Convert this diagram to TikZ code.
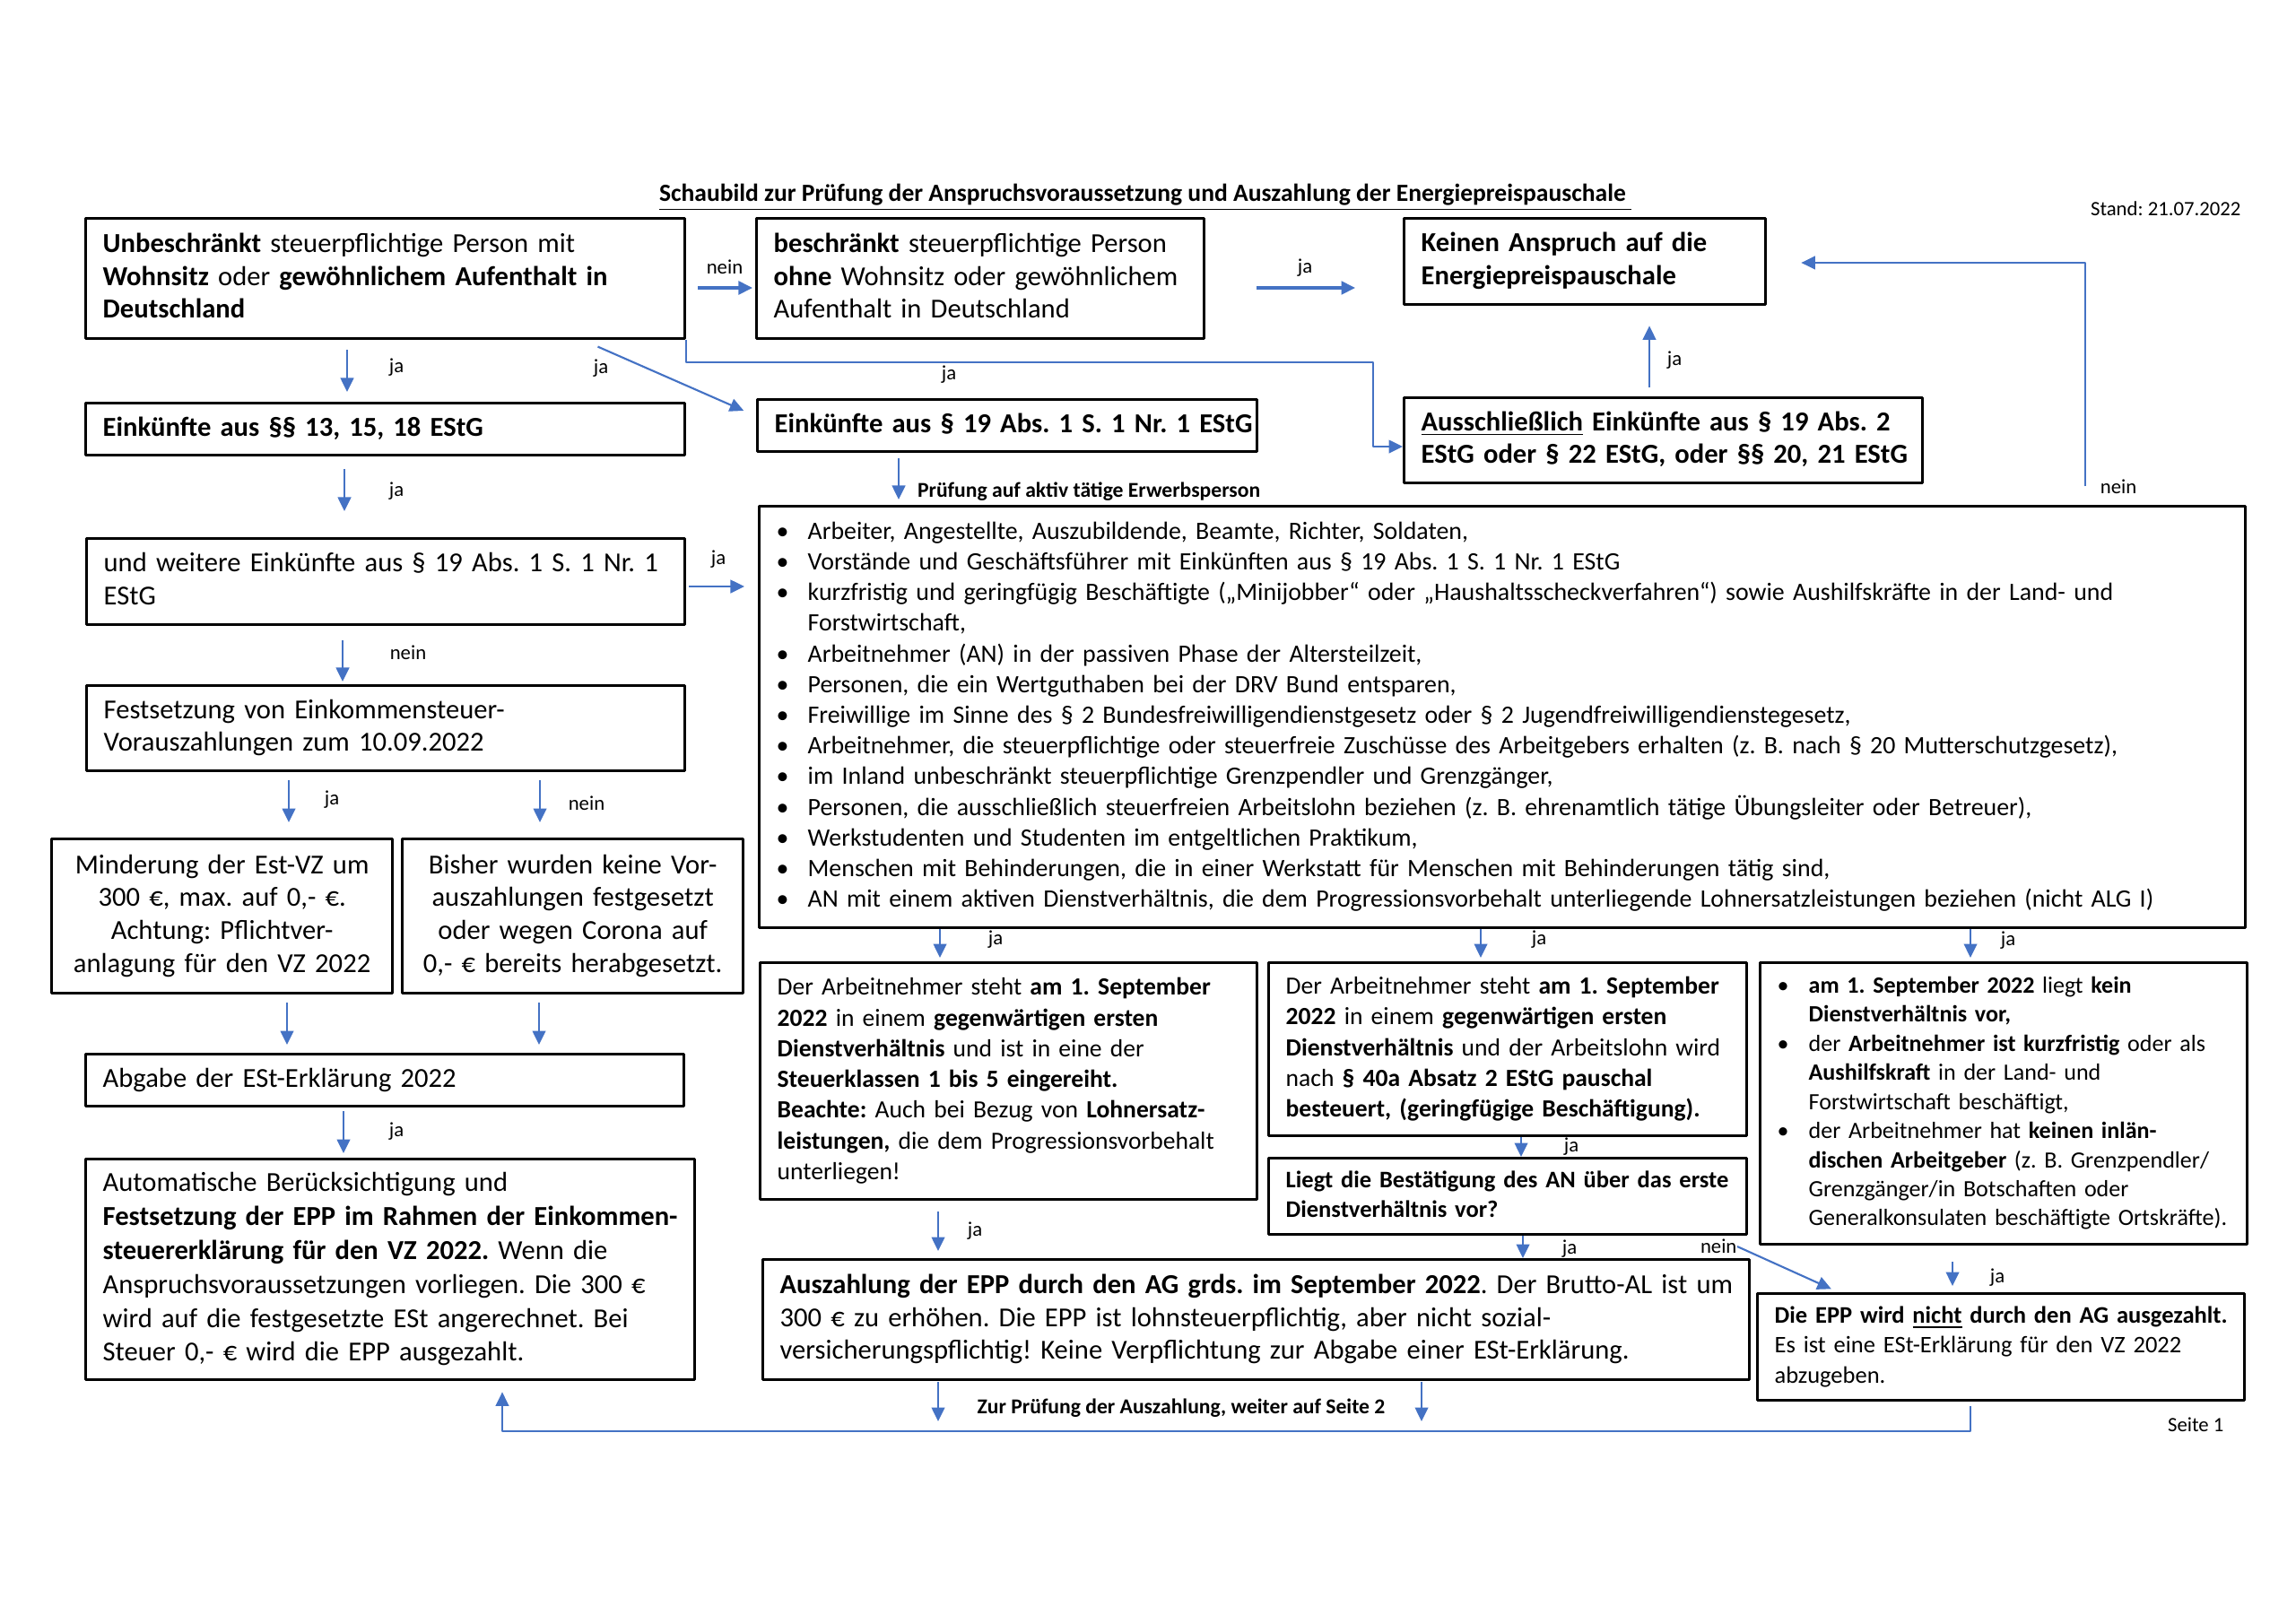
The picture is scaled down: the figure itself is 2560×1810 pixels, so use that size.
\documentclass[tikz,border=0pt]{standalone}
\usepackage{fontspec}
\setmainfont{Carlito}
\usetikzlibrary{arrows.meta,positioning}
\definecolor{epblue}{HTML}{4472C4}
\frenchspacing
\newlength{\pxd}
\setlength{\pxd}{0.11602mm}
\newcommand{\lns}[1]{\begin{tabular}{@{}l@{}}#1\end{tabular}}
\newcommand{\clns}[1]{\begin{tabular}{@{}c@{}}#1\end{tabular}}
\newcommand{\bul}{\makebox[35\pxd][l]{\textbullet}}
\newcommand{\bulsp}{\hspace*{35\pxd}}

\begin{document}
\begin{tikzpicture}[x=0.11602mm, y=-0.11602mm, >={Triangle[length=1.8mm,width=1.7mm]},
    line join=round,
    box/.style={draw, line width=1.1pt, inner xsep=19*\pxd, inner ysep=2pt, anchor=north west,
      align=left, font=\fontsize{10.1}{12.1}\selectfont},
    sm/.style={font=\fontsize{9.1}{11.3}\selectfont},
    bx/.style n args={2}{text width=#1*\pxd-38*\pxd, minimum height=#2*\pxd},
    arr/.style={->, draw=epblue, line width=0.7pt},
    arrb/.style={->, draw=epblue, line width=1.1pt},
    gap/.style 2 args={shorten <=#1*\pxd, shorten >=#2*\pxd},
    lbl/.style={font=\fontsize{7.5}{9}\selectfont, inner sep=0pt},
    lblb/.style={font=\fontsize{7.8}{9}\selectfont\bfseries, inner sep=0pt}]
    \useasboundingbox (0,0) rectangle (2560,1810);

    \node[font=\fontsize{9.1}{11}\selectfont\bfseries, inner sep=0pt] (titel) at (1277,220)
      {\underline{Schaubild zur Prüfung der Anspruchsvoraussetzung und Auszahlung der Energiepreispauschale }};
    \node[lbl, anchor=east] (stand) at (2499,233) {Stand: 21.07.2022};
    \node[lbl, anchor=east] (seite) at (2480,1589) {Seite 1};

    \node[box, bx={668}{134}] (unb) at (94,242) {\lns{\textbf{Unbeschränkt} steuerpflichtige Person mit\\
      \textbf{Wohnsitz} oder \textbf{gewöhnlichem Aufenthalt in}\\ \textbf{Deutschland}}};
    \node[box, bx={499}{134}] (bes) at (842,242) {\lns{\textbf{beschränkt} steuerpflichtige Person\\
      \textbf{ohne} Wohnsitz oder gewöhnlichem\\ Aufenthalt in Deutschland}};
    \node[box, bx={403}{96}] (kein) at (1564,242) {\lns{\textbf{Keinen Anspruch auf die}\\ \textbf{Energiepreispauschale}}};
    \node[box, bx={668}{58}] (ek13) at (94,448) {\lns{\textbf{Einkünfte aus §§ 13, 15, 18 EStG}}};
    \node[box, bx={557}{58}] (ek19) at (843,444) {\lns{\textbf{Einkünfte aus § 19 Abs. 1 S. 1 Nr. 1 EStG}}};
    \node[box, bx={578}{95}] (auss) at (1564,442) {\lns{\textbf{\underline{Ausschließlich} Einkünfte aus § 19 Abs. 2}\\
      \textbf{EStG oder § 22 EStG, oder §§ 20, 21 EStG}}};
    \node[box, bx={667}{96}] (weit) at (95,599) {\lns{und weitere Einkünfte aus § 19 Abs. 1 S. 1 Nr. 1\\ EStG}};
    \node[box, bx={667}{95}] (vorz) at (95,763) {\lns{Festsetzung von Einkommensteuer-\\ Vorauszahlungen zum 10.09.2022}};
    \node[box, bx={380}{172}, align=center] (mind) at (56,934) {\clns{Minderung der Est-VZ um\\ 300 €, max. auf 0,- €.\\
      Achtung: Pflichtver-\\ anlagung für den VZ 2022}};
    \node[box, bx={380}{172}, align=center] (bish) at (447,934) {\clns{Bisher wurden keine Vor-\\ auszahlungen festgesetzt\\
      oder wegen Corona auf\\ 0,- € bereits herabgesetzt.}};
    \node[box, bx={667}{58}] (abg) at (94,1174) {\lns{Abgabe der ESt-Erklärung 2022}};
    \node[box, bx={679}{246}, font=\fontsize{10.1}{12.5}\selectfont] (auto) at (94,1291) {\lns{Automatische Berücksichtigung und\\
      \textbf{Festsetzung der EPP im Rahmen der Einkommen-}\\ \textbf{steuererklärung für den VZ 2022.} Wenn die\\
      Anspruchsvoraussetzungen vorliegen. Die 300 €\\ wird auf die festgesetzte ESt angerechnet. Bei\\
      Steuer 0,- € wird die EPP ausgezahlt.}};

    \node[box, bx={1657}{470}, font=\fontsize{9.2}{11.3}\selectfont] (liste) at (845,563) {\lns{\bul Arbeiter, Angestellte, Auszubildende, Beamte, Richter, Soldaten,\\
      \bul Vorstände und Geschäftsführer mit Einkünften aus § 19 Abs. 1 S. 1 Nr. 1 EStG\\
      \bul kurzfristig und geringfügig Beschäftigte („Minijobber“ oder „Haushaltsscheckverfahren“) sowie Aushilfskräfte in der Land- und\\
      \bulsp Forstwirtschaft,\\
      \bul Arbeitnehmer (AN) in der passiven Phase der Altersteilzeit,\\
      \bul Personen, die ein Wertguthaben bei der DRV Bund entsparen,\\
      \bul Freiwillige im Sinne des § 2 Bundesfreiwilligendienstgesetz oder § 2 Jugendfreiwilligendienstegesetz,\\
      \bul Arbeitnehmer, die steuerpflichtige oder steuerfreie Zuschüsse des Arbeitgebers erhalten (z. B. nach § 20 Mutterschutzgesetz),\\
      \bul im Inland unbeschränkt steuerpflichtige Grenzpendler und Grenzgänger,\\
      \bul Personen, die ausschließlich steuerfreien Arbeitslohn beziehen (z. B. ehrenamtlich tätige Übungsleiter oder Betreuer),\\
      \bul Werkstudenten und Studenten im entgeltlichen Praktikum,\\
      \bul Menschen mit Behinderungen, die in einer Werkstatt für Menschen mit Behinderungen tätig sind,\\
      \bul AN mit einem aktiven Dienstverhältnis, die dem Progressionsvorbehalt unterliegende Lohnersatzleistungen beziehen (nicht ALG I)}};

    \node[box, sm, bx={554}{264}] (erst) at (846,1072) {\lns{Der Arbeitnehmer steht \textbf{am 1. September}\\
      \textbf{2022} in einem \textbf{gegenwärtigen ersten}\\ \textbf{Dienstverhältnis} und ist in eine der\\
      \textbf{Steuerklassen 1 bis 5 eingereiht.}\\ \textbf{Beachte:} Auch bei Bezug von \textbf{Lohnersatz-}\\
      \textbf{leistungen,} die dem Progressionsvorbehalt\\ unterliegen!}};
    \node[box, sm, bx={533}{193}] (pausch) at (1413,1072) {\lns{Der Arbeitnehmer steht \textbf{am 1. September}\\
      \textbf{2022} in einem \textbf{gegenwärtigen ersten}\\ \textbf{Dienstverhältnis} und der Arbeitslohn wird\\
      nach \textbf{§ 40a Absatz 2 EStG pauschal}\\ \textbf{besteuert, (geringfügige Beschäftigung).}}};
    \node[box, bx={533}{85}, font=\fontsize{8.75}{11}\selectfont] (best) at (1413,1290)
      {\lns{\textbf{Liegt die Bestätigung des AN über das erste}\\ \textbf{Dienstverhältnis vor?}}};
    \node[box, bx={543}{314}, font=\fontsize{8.6}{10.7}\selectfont] (keindv) at (1961,1072) {\lns{\bul \textbf{am 1. September 2022} liegt \textbf{kein}\\
      \bulsp \textbf{Dienstverhältnis vor,}\\
      \bul der \textbf{Arbeitnehmer ist kurzfristig} oder als\\
      \bulsp \textbf{Aushilfskraft} in der Land- und\\
      \bulsp Forstwirtschaft beschäftigt,\\
      \bul der Arbeitnehmer hat \textbf{keinen inlän-}\\
      \bulsp \textbf{dischen Arbeitgeber} (z. B. Grenzpendler/\\
      \bulsp Grenzgänger/in Botschaften oder\\
      \bulsp Generalkonsulaten beschäftigte Ortskräfte).}};
    \node[box, bx={1100}{134}] (ausz) at (849,1403) {\lns{\textbf{Auszahlung der EPP durch den AG grds. im September 2022}. Der Brutto-AL ist um\\
      300 € zu erhöhen. Die EPP ist lohnsteuerpflichtig, aber nicht sozial-\\
      versicherungspflichtig! Keine Verpflichtung zur Abgabe einer ESt-Erklärung.}};
    \node[box, bx={543}{119}, font=\fontsize{8.75}{11}\selectfont] (nicht) at (1958,1441)
      {\lns{\textbf{Die EPP wird \underline{nicht} durch den AG ausgezahlt.}\\ Es ist eine ESt-Erklärung für den VZ 2022\\ abzugeben.}};

    \draw[arrb, gap={13}{3}] (unb.east |- 0,321) -- (bes.west |- 0,321) node[lbl] (n1) at (808,298) {nein};
    \draw[arr, gap={11}{11}] (unb.south -| 387,0) -- (ek13.north -| 387,0) node[lbl] (j1) at (442,410) {ja};
    \draw[arr, gap={18}{15}] (unb.south -| 650,0) -- (ek19.west |- 0,464) node[lbl] (j2) at (670,411) {ja};
    \draw[arr] (unb.south east) |- (1531,404) |- (auss.west |- 0,498) node[lbl] (j3) at (1058,418) {ja};
    \draw[arrb, gap={57}{53}] (bes.east |- 0,321) -- (kein.west |- 0,321) node[lbl] (j4) at (1455,299) {ja};
    \draw[arr, gap={10}{22}] (auss.north -| 1839,0) -- (kein.south -| 1839,0) node[lbl] (j5) at (1867,402) {ja};
    \draw[arr, gap={21}{38}] (liste.north -| 2325,0) |- (kein.east |- 0,293) node[lbl] (n2) at (2362,543) {nein};
    \draw[arr, gap={14}{29}] (ek13.south -| 384,0) -- (weit.north -| 384,0) node[lbl] (j6) at (442,548) {ja};
    \draw[arr, gap={6}{6}] (ek19.south -| 1002,0) -- (liste.north -| 1002,0)
      node[lblb, anchor=west] (pruef) at (1022,548) {Prüfung auf aktiv tätige Erwerbsperson};
    \draw[arr, gap={3}{15}] (weit.east |- 0,654) -- (liste.west |- 0,654) node[lbl] (j7) at (801,624) {ja};
    \draw[arr, gap={16}{3}] (weit.south -| 382,0) -- (vorz.north -| 382,0) node[lbl] (n3) at (455,728) {nein};
    \draw[arr, gap={9}{17}] (vorz.south -| 322,0) -- (mind.north -| 322,0) node[lbl] (j8) at (370,892) {ja};
    \draw[arr, gap={9}{17}] (vorz.south -| 602,0) -- (bish.north -| 602,0) node[lbl] (n4) at (654,896) {nein};
    \draw[arr, gap={9}{9}] (mind.south -| 320,0) -- (abg.north -| 320,0);
    \draw[arr, gap={9}{9}] (bish.south -| 601,0) -- (abg.north -| 601,0);
    \draw[arr, gap={4}{5}] (abg.south -| 383,0) -- (auto.north -| 383,0) node[lbl] (j9) at (442,1262) {ja};
    \draw[arr, gap={0}{4}] (liste.south -| 1048,0) -- (erst.north -| 1048,0) node[lbl] (j10) at (1110,1048) {ja};
    \draw[arr, gap={0}{4}] (liste.south -| 1651,0) -- (pausch.north -| 1651,0) node[lbl] (j11) at (1716,1048) {ja};
    \draw[arr, gap={0}{4}] (liste.south -| 2197,0) -- (keindv.north -| 2197,0) node[lbl] (j12) at (2239,1049) {ja};
    \draw[arr] (pausch.south -| 1696,0) -- (best.north -| 1696,0) node[lbl] (j13) at (1752,1279) {ja};
    \draw[arr, gap={12}{8}] (erst.south -| 1046,0) -- (ausz.north -| 1046,0) node[lbl] (j14) at (1087,1373) {ja};
    \draw[arr] (best.south -| 1698,0) -- (ausz.north -| 1698,0) node[lbl] (j15) at (1750,1393) {ja};
    \node[lbl, anchor=east] (n5) at (1937,1390) {nein};
    \draw[arr, gap={0}{9}] (n5.east) -- (nicht.north -| 2050,0);
    \draw[arr, gap={18}{7}] (keindv.south -| 2177,0) -- (nicht.north -| 2177,0) node[lbl] (j16) at (2227,1425) {ja};

    \coordinate (unten) at (0,1596);
    \draw[arr, gap={1}{11}] (ausz.south -| 1046,0) -- (unten -| 1046,0);
    \draw[arr, gap={1}{11}] (ausz.south -| 1585,0) -- (unten -| 1585,0);
    \node[lblb] (weiter) at (1317,1570) {Zur Prüfung der Auszahlung, weiter auf Seite 2};
    \draw[arr, gap={5}{12}] (nicht.south -| 2197,0) -- (unten -| 2197,0) -| (auto.south -| 560,0);
\end{tikzpicture}
\end{document}
